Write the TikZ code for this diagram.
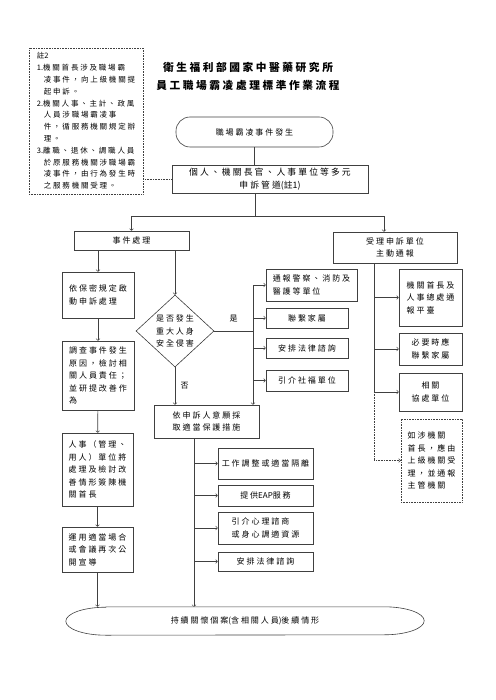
\documentclass[tikz,border=0pt]{standalone}
\usepackage{fontspec}
\setmainfont[LetterSpace=24]{Noto Sans CJK TC}
\newfontfamily\latinfont{Noto Sans CJK TC}
\newcommand{\lat}[1]{{\latinfont #1}}
\usepackage{tikz}
\usetikzlibrary{shapes.geometric}
\usetikzlibrary{positioning}

\tikzset{
  box/.style={draw=black!75, line width=0.6pt, inner sep=1pt, align=center},
  leftbox/.style={box, align=left},
  conn/.style={draw=black!75, line width=0.6pt},
  arr/.style={conn, ->},
}

\begin{document}
\begin{tikzpicture}[x=1pt, y=-1pt, font=\fontsize{8}{12.5}\selectfont]
   \useasboundingbox (0,0) rectangle (495,700);

   \node[align=center, font=\fontsize{10.7}{18}\selectfont\bfseries] (title) at (248,76) {衛生福利部國家中醫藥研究所\\員工職場霸凌處理標準作業流程};
   \node[leftbox, densely dotted, minimum width=114pt, minimum height=146pt, font=\fontsize{7.5}{11.8}\selectfont] (note) at (86,121) {註\lat{2}\\
      \lat{1.}機關首長涉及職場霸\\
      \hspace*{7pt}凌事件，向上級機關提\\
      \hspace*{7pt}起申訴。\\
      \lat{2.}機關人事、主計、政風\\
      \hspace*{7pt}人員涉職場霸凌事\\
      \hspace*{7pt}件，循服務機關規定辦\\
      \hspace*{7pt}理。\\
      \lat{3.}離職、退休、調職人員\\
      \hspace*{7pt}於原服務機關涉職場霸\\
      \hspace*{7pt}凌事件，由行為發生時\\
      \hspace*{7pt}之服務機關受理。};

   \node[box, rounded corners=14pt, minimum width=157pt, minimum height=30pt] (start) at (254.5,132) {職場霸凌事件發生};
   \node[box, minimum width=196pt, minimum height=28pt, font=\fontsize{8.8}{12.5}\selectfont] (channel) at (270,179) {個人、機關長官、人事單位等多元\\申訴管道\lat{(}註\lat{1)}};
   \node[box, minimum width=115pt, minimum height=19pt] (handle) at (131.5,240.5) {事件處理};
   \node[box, minimum width=124pt, minimum height=31pt] (notify) at (395,247.5) {受理申訴單位\\主動通報};

   % left column
   \node[leftbox, minimum width=72pt, minimum height=46pt] (confid) at (98,295) {依保密規定啟\\動申訴處理};
   \node[leftbox, minimum width=72pt, minimum height=69pt] (invest) at (98,375.5) {調查事件發生\\原因，檢討相\\關人員責任；\\並研提改善作\\為};
   \node[leftbox, minimum width=71pt, minimum height=73pt] (report) at (97.5,469.5) {人事（管理、\\用人）單位將\\處理及檢討改\\善情形簽陳機\\關首長};
   \node[leftbox, minimum width=71pt, minimum height=45pt] (promote) at (97.5,549.5) {運用適當場合\\或會議再次公\\開宣導};

   % middle column
   \node[draw=black!75, line width=0.6pt, diamond, aspect=1.08, inner sep=0pt, minimum width=78pt, minimum height=72pt, align=center] (harm) at (175,331) {是否發生\\重大人身\\安全侵害};
   \node[box, minimum width=105pt, minimum height=33pt] (protect) at (206.5,421.5) {依申訴人意願採\\取適當保護措施};
   \node[leftbox, minimum width=91pt, minimum height=32pt] (police) at (311.5,285) {通報警察、消防及\\醫護等單位};
   \node[box, minimum width=82pt, minimum height=20pt] (family) at (307,318) {聯繫家屬};
   \node[box, minimum width=82pt, minimum height=20pt] (lawA) at (307,348) {安排法律諮詢};
   \node[box, minimum width=82pt, minimum height=21pt] (welfare) at (307,380.5) {引介社福單位};
   \node[box, minimum width=95pt, minimum height=31pt] (adjust) at (265.5,463.5) {工作調整或適當隔離};
   \node[box, minimum width=95pt, minimum height=21pt] (eap) at (265.5,495.5) {提供\lat{EAP}服務};
   \node[leftbox, minimum width=95pt, minimum height=32pt] (counsel) at (265.5,528) {引介心理諮商\\或身心調適資源};
   \node[box, minimum width=95pt, minimum height=19pt] (lawB) at (265.5,561.5) {安排法律諮詢};

   % right column
   \node[leftbox, minimum width=63pt, minimum height=57pt] (head) at (430.5,297.5) {機關首長及\\人事總處通\\報平臺};
   \node[box, minimum width=63pt, minimum height=32pt] (famB) at (430.5,349) {必要時應\\聯繫家屬};
   \node[box, minimum width=63pt, minimum height=38pt] (coop) at (430.5,392) {相關\\協處單位};
   \node[leftbox, densely dotted, minimum width=61pt, minimum height=83pt] (upper) at (431.5,460.5) {如涉機關\\首長，應由\\上級機關受\\理，並通報\\主管機關};

   \node[minimum width=358pt, minimum height=28pt, inner sep=0pt] (final) at (245,621) {持續關懷個案\lat{(}含相關人員\lat{)}後續情形};
   \draw[conn] ([xshift=40pt]final.north west) -- ([xshift=-40pt]final.north east)
      arc[start angle=90, end angle=-90, x radius=40pt, y radius=14pt]
      -- ([xshift=40pt]final.south west)
      arc[start angle=270, end angle=90, x radius=40pt, y radius=14pt] -- cycle;

   % connectors
   \draw[conn, densely dotted] (note.east |- channel) -- (channel);
   \draw[conn] (start) -- (start |- channel.north);
   \coordinate (split) at (255,216);
   \draw[conn] (split |- channel.south) -- (split);
   \draw[arr] (split) -| (handle.north);
   \draw[arr] (split) -| ([xshift=-11pt]notify.north);

   \draw[arr] (confid |- handle.south) -- (confid);
   \draw[arr] (harm |- handle.south) -- (harm);
   \draw[arr] (confid) -- (invest);
   \draw[arr] (invest) -- (report);
   \draw[arr] (report) -- (promote);
   \draw[arr] (promote) -- (promote |- final.north);

   \draw[arr] (harm) -- node[right, xshift=2pt] {否} (harm |- protect.north);
   \coordinate (yes) at (253,331);
   \draw[conn] (harm) -- node[above=5pt] {是} (yes);
   \draw[arr] (yes |- police) -- (yes |- protect.north);
   \foreach \n in {police,family,lawA,welfare}
      \draw[arr] (yes |- \n) -- (\n);

   \coordinate (pt) at ([xshift=-12.5pt]protect.south);
   \draw[arr] (pt) -- (pt |- final.north);
   \foreach \n in {adjust,eap,counsel,lawB}
      \draw[arr] (pt |- \n) -- (\n);

   \coordinate (rt) at ([xshift=-21pt]notify.south);
   \draw[conn] (rt) -- (rt |- coop);
   \foreach \n in {head,famB,coop}
      \draw[arr] (rt |- \n) -- (\n);
   \draw[arr, densely dotted] (rt |- coop) |- (upper);
\end{tikzpicture}
\end{document}
